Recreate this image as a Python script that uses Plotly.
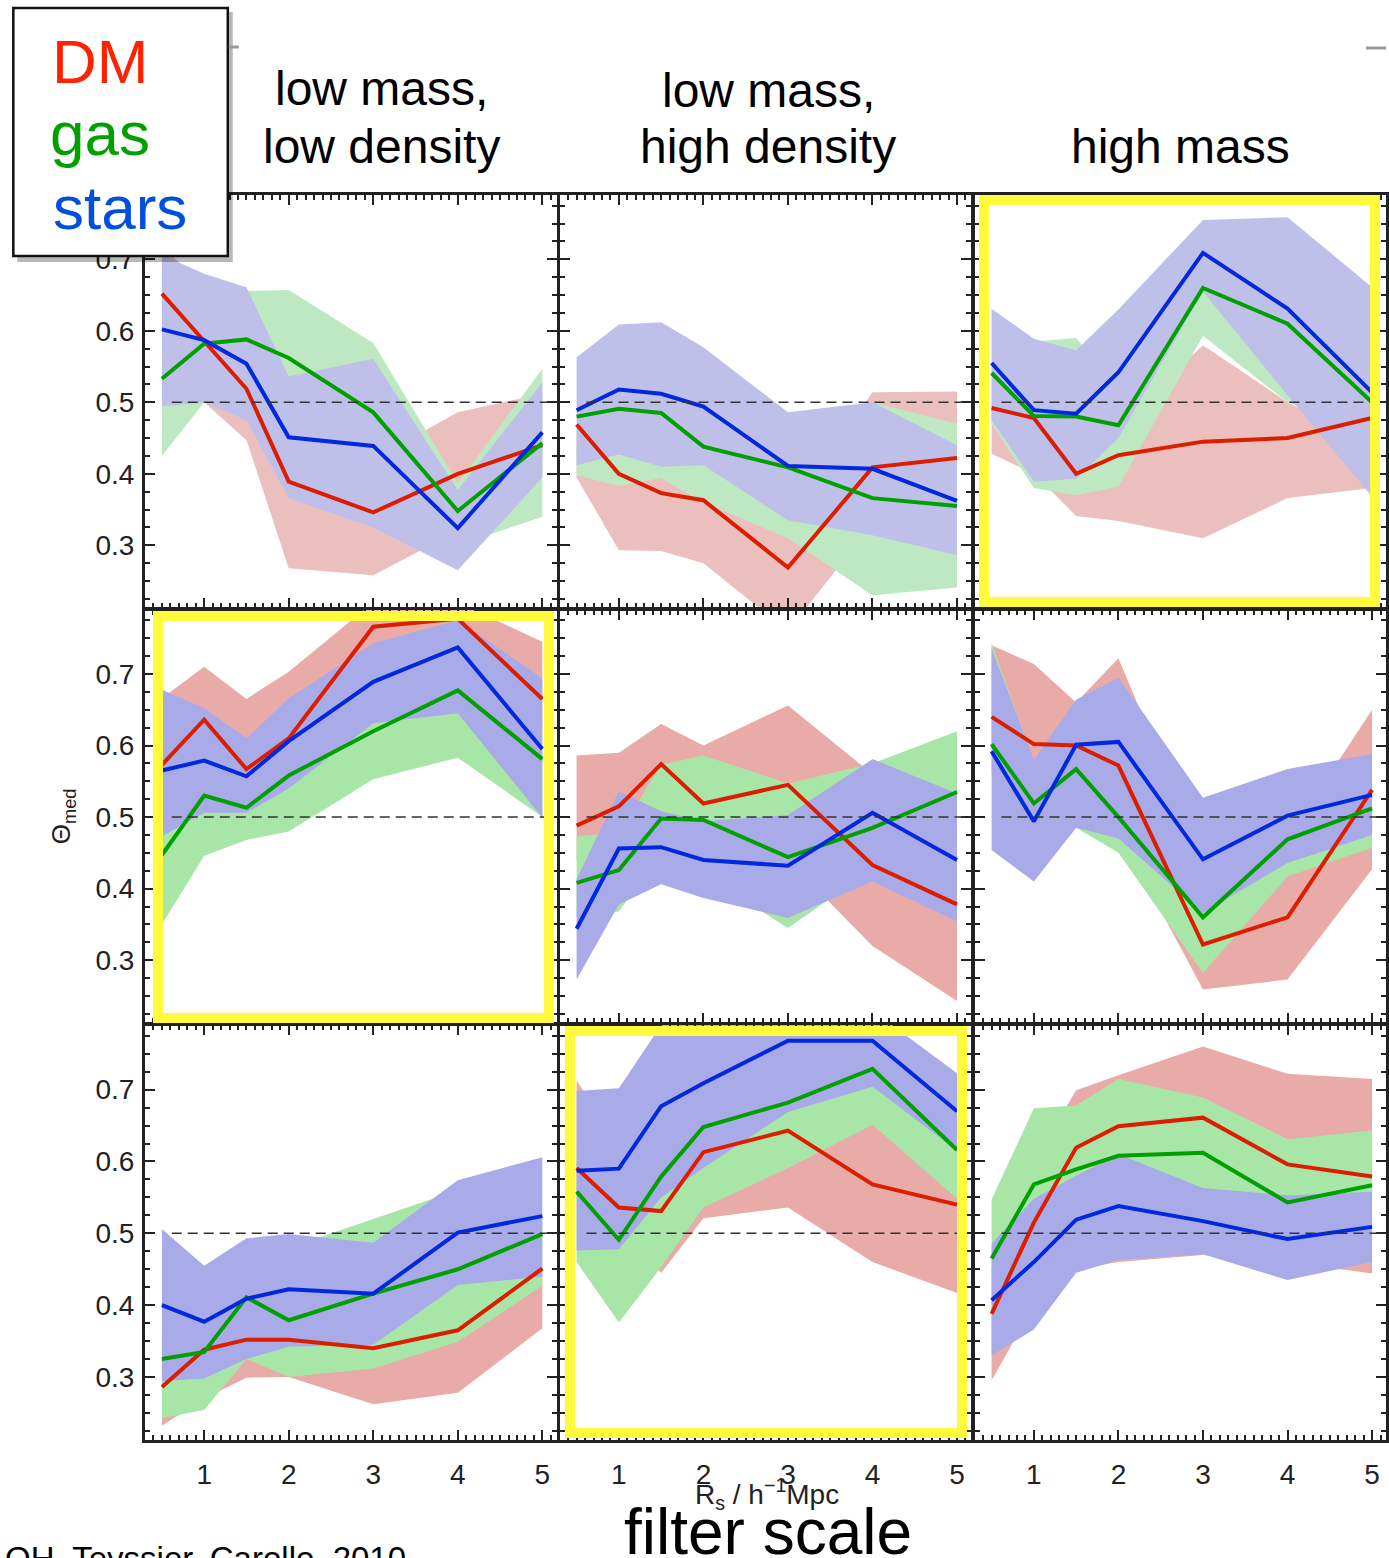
import plotly.graph_objects as go

# ---------------- data ----------------
X = [0.5, 1, 1.5, 2, 3, 4, 5]          # filter scale R_s [h^-1 Mpc]

# panels in row-major order:
# r1: low mass/low density, low mass/high density, high mass  (same for r2, r3)
DM_MED = [
    [0.652, 0.586, 0.519, 0.389, 0.346, 0.400, 0.440],
    [0.469, 0.400, 0.373, 0.363, 0.269, 0.409, 0.422],
    [0.492, 0.478, 0.400, 0.426, 0.445, 0.450, 0.478],
    [0.573, 0.636, 0.567, 0.610, 0.766, 0.777, 0.665],
    [0.488, 0.515, 0.574, 0.519, 0.545, 0.433, 0.378],
    [0.640, 0.602, 0.600, 0.572, 0.322, 0.360, 0.538],
    [0.286, 0.338, 0.352, 0.352, 0.340, 0.365, 0.451],
    [0.591, 0.536, 0.531, 0.613, 0.643, 0.568, 0.540],
    [0.388, 0.515, 0.619, 0.649, 0.661, 0.596, 0.579],
]
DM_LO = [
    [0.600, 0.500, 0.447, 0.268, 0.258, 0.320, 0.400],
    [0.395, 0.293, 0.292, 0.275, 0.180, 0.330, 0.400],
    [0.428, 0.400, 0.341, 0.334, 0.310, 0.366, 0.380],
    [0.560, 0.600, 0.550, 0.580, 0.700, 0.720, 0.620],
    [0.440, 0.450, 0.500, 0.490, 0.440, 0.320, 0.243],
    [0.560, 0.520, 0.500, 0.480, 0.259, 0.273, 0.427],
    [0.232, 0.270, 0.299, 0.300, 0.262, 0.278, 0.368],
    [0.550, 0.500, 0.445, 0.521, 0.536, 0.460, 0.417],
    [0.295, 0.400, 0.450, 0.460, 0.470, 0.460, 0.444],
]
DM_HI = [
    [0.720, 0.660, 0.580, 0.460, 0.420, 0.486, 0.512],
    [0.460, 0.450, 0.430, 0.410, 0.340, 0.514, 0.515],
    [0.500, 0.470, 0.440, 0.470, 0.580, 0.500, 0.440],
    [0.666, 0.710, 0.665, 0.703, 0.800, 0.800, 0.745],
    [0.586, 0.590, 0.630, 0.600, 0.656, 0.560, 0.460],
    [0.740, 0.714, 0.660, 0.722, 0.440, 0.470, 0.650],
    [0.300, 0.340, 0.360, 0.360, 0.360, 0.430, 0.440],
    [0.713, 0.620, 0.600, 0.660, 0.700, 0.700, 0.620],
    [0.450, 0.600, 0.699, 0.720, 0.760, 0.722, 0.715],
]
GAS_MED = [
    [0.533, 0.582, 0.588, 0.562, 0.486, 0.348, 0.443],
    [0.480, 0.491, 0.485, 0.438, 0.409, 0.366, 0.355],
    [0.541, 0.481, 0.480, 0.468, 0.660, 0.610, 0.500],
    [0.447, 0.530, 0.513, 0.558, 0.620, 0.677, 0.581],
    [0.408, 0.426, 0.498, 0.496, 0.444, 0.485, 0.535],
    [0.602, 0.519, 0.567, 0.500, 0.360, 0.469, 0.512],
    [0.325, 0.335, 0.411, 0.379, 0.416, 0.450, 0.499],
    [0.558, 0.491, 0.579, 0.648, 0.682, 0.729, 0.616],
    [0.465, 0.568, 0.589, 0.608, 0.612, 0.543, 0.567],
]
GAS_LO = [
    [0.425, 0.500, 0.500, 0.480, 0.400, 0.300, 0.340],
    [0.398, 0.383, 0.394, 0.360, 0.310, 0.230, 0.241],
    [0.470, 0.380, 0.370, 0.382, 0.593, 0.500, 0.460],
    [0.350, 0.446, 0.468, 0.480, 0.553, 0.583, 0.500],
    [0.360, 0.368, 0.450, 0.420, 0.345, 0.427, 0.440],
    [0.600, 0.500, 0.485, 0.450, 0.282, 0.417, 0.457],
    [0.243, 0.254, 0.325, 0.300, 0.312, 0.349, 0.427],
    [0.460, 0.376, 0.453, 0.536, 0.591, 0.651, 0.548],
    [0.440, 0.500, 0.520, 0.560, 0.550, 0.540, 0.550],
]
GAS_HI = [
    [0.550, 0.600, 0.656, 0.657, 0.583, 0.387, 0.547],
    [0.440, 0.450, 0.440, 0.430, 0.400, 0.500, 0.470],
    [0.550, 0.585, 0.590, 0.520, 0.668, 0.630, 0.520],
    [0.500, 0.560, 0.550, 0.600, 0.660, 0.700, 0.620],
    [0.473, 0.478, 0.573, 0.586, 0.547, 0.575, 0.620],
    [0.743, 0.578, 0.620, 0.560, 0.420, 0.490, 0.530],
    [0.350, 0.360, 0.420, 0.480, 0.520, 0.560, 0.530],
    [0.620, 0.560, 0.620, 0.700, 0.720, 0.760, 0.660],
    [0.547, 0.674, 0.678, 0.715, 0.689, 0.631, 0.643],
]
STARS_MED = [
    [0.602, 0.587, 0.554, 0.451, 0.439, 0.324, 0.458],
    [0.489, 0.518, 0.512, 0.494, 0.411, 0.407, 0.362],
    [0.555, 0.489, 0.484, 0.542, 0.709, 0.631, 0.514],
    [0.565, 0.579, 0.557, 0.606, 0.689, 0.737, 0.595],
    [0.344, 0.456, 0.458, 0.440, 0.432, 0.506, 0.440],
    [0.592, 0.494, 0.601, 0.605, 0.441, 0.502, 0.531],
    [0.400, 0.377, 0.409, 0.422, 0.416, 0.501, 0.524],
    [0.587, 0.590, 0.677, 0.709, 0.768, 0.768, 0.670],
    [0.407, 0.460, 0.519, 0.538, 0.517, 0.492, 0.509],
]
STARS_LO = [
    [0.494, 0.500, 0.475, 0.366, 0.325, 0.265, 0.395],
    [0.412, 0.427, 0.410, 0.412, 0.335, 0.314, 0.286],
    [0.475, 0.389, 0.393, 0.450, 0.655, 0.510, 0.368],
    [0.473, 0.506, 0.506, 0.540, 0.631, 0.645, 0.499],
    [0.273, 0.378, 0.406, 0.387, 0.359, 0.410, 0.354],
    [0.454, 0.410, 0.485, 0.470, 0.366, 0.436, 0.475],
    [0.294, 0.298, 0.325, 0.342, 0.345, 0.428, 0.440],
    [0.476, 0.478, 0.550, 0.591, 0.669, 0.704, 0.615],
    [0.330, 0.366, 0.445, 0.463, 0.471, 0.435, 0.460],
]
STARS_HI = [
    [0.706, 0.680, 0.661, 0.536, 0.561, 0.377, 0.528],
    [0.563, 0.609, 0.612, 0.577, 0.486, 0.500, 0.440],
    [0.631, 0.589, 0.573, 0.630, 0.755, 0.759, 0.661],
    [0.678, 0.652, 0.610, 0.666, 0.743, 0.775, 0.694],
    [0.413, 0.536, 0.508, 0.494, 0.503, 0.581, 0.533],
    [0.736, 0.580, 0.664, 0.695, 0.527, 0.567, 0.588],
    [0.506, 0.455, 0.493, 0.499, 0.487, 0.574, 0.606],
    [0.698, 0.702, 0.790, 0.810, 0.820, 0.810, 0.723],
    [0.486, 0.548, 0.580, 0.610, 0.563, 0.553, 0.558],
]
HIGHLIGHTED = [2, 3, 7]   # panels framed in yellow
COL_TITLES = [["low mass,", "low density"], ["low mass,", "high density"], ["high mass"]]
Y_TICKS = [0.3, 0.4, 0.5, 0.6, 0.7]
X_TICKS = [1, 2, 3, 4, 5]

# ---------------- layout geometry ----------------
W, H = 1389, 1558
ML, MR, MT, MB = 145, 0, 195, 118
PW, PH = W - ML - MR, H - MT - MB


def pxx(x):
    return (x - ML) / PW


def pyy(y):
    return (H - MB - y) / PH


COLS = [(145, 557.7), (560.7, 973.4), (976.7, 1389)]
ROWS = [(195, 607.5), (609.5, 1022.5), (1025, 1439.5)]
XRANGES = [[0.30, 5.17], [0.30, 5.17], [0.30, 5.165]]
YRANGE = [0.213, 0.79]

LINE_C = {"dm": "#dc1e00", "gas": "#00a000", "stars": "#0028dc"}
FILL_ROW1 = {"dm": "#ebbfbe", "gas": "#bee8c2", "stars": "#bec0ea"}
FILL_OTHER = {"dm": "#e9aba8", "gas": "#a8e6a8", "stars": "#a9abe8"}
FONT = "Liberation Sans, Arial, Helvetica, sans-serif"
AXC = "#222222"

fig = go.Figure()
species = [("dm", DM_MED, DM_LO, DM_HI), ("gas", GAS_MED, GAS_LO, GAS_HI),
           ("stars", STARS_MED, STARS_LO, STARS_HI)]

for i in range(9):
    r, c = divmod(i, 3)
    sfx = "" if i == 0 else str(i + 1)
    fills = FILL_ROW1 if r == 0 else FILL_OTHER
    for key, med, lo, hi in species:
        fig.add_trace(go.Scatter(
            x=X + X[::-1], y=hi[i] + lo[i][::-1], fill="toself",
            fillcolor=fills[key], line=dict(width=0), mode="lines",
            hoverinfo="skip", showlegend=False,
            xaxis="x" + sfx, yaxis="y" + sfx))
    for key, med, lo, hi in species:
        fig.add_trace(go.Scatter(
            x=X, y=med[i], mode="lines", line=dict(color=LINE_C[key], width=4),
            showlegend=False, xaxis="x" + sfx, yaxis="y" + sfx))

layout = dict(
    width=W, height=H, margin=dict(l=ML, r=MR, t=MT, b=MB),
    paper_bgcolor="white", plot_bgcolor="white", showlegend=False,
    font=dict(family=FONT, color=AXC),
)
for i in range(9):
    r, c = divmod(i, 3)
    sfx = "" if i == 0 else str(i + 1)
    common = dict(showline=True, linewidth=3, linecolor=AXC, mirror="allticks",
                  ticks="inside", ticklen=10, tickwidth=2, tickcolor=AXC,
                  showgrid=False, zeroline=False,
                  tickfont=dict(family=FONT, size=28, color=AXC))
    layout["xaxis" + sfx] = dict(
        common, domain=[pxx(COLS[c][0]), pxx(COLS[c][1])], range=XRANGES[c],
        anchor="y" + sfx, tickvals=X_TICKS, showticklabels=(r == 2),
        ticklabelstandoff=8,
        minor=dict(ticks="inside", ticklen=5, tickwidth=1.5, tickcolor=AXC,
                   dtick=0.1, tick0=0, showgrid=False))
    layout["yaxis" + sfx] = dict(
        common, domain=[pyy(ROWS[r][1]), pyy(ROWS[r][0])], range=YRANGE,
        anchor="x" + sfx, tickvals=Y_TICKS, ticktext=[f"{v:.1f}" for v in Y_TICKS],
        showticklabels=(c == 0), ticklabelstandoff=2,
        minor=dict(ticks="inside", ticklen=5, tickwidth=1.5, tickcolor=AXC,
                   dtick=0.025, tick0=0, showgrid=False))
fig.update_layout(**layout)

shapes = []
# dashed 0.5 reference lines
for i in range(9):
    sfx = "" if i == 0 else str(i + 1)
    shapes.append(dict(type="line", xref=f"x{sfx} domain", yref="y" + sfx,
                       x0=0.065, x1=1, y0=0.5, y1=0.5,
                       line=dict(color="#333333", width=1.5, dash="10px,6px"),
                       layer="above"))
# yellow frames (pixel boxes: left, top, right, bottom of stroke centre)
YBOX = {2: (986, 200, 1378, 602), 3: (158, 616, 550, 1018), 7: (571, 1031, 964, 1433)}
for i in HIGHLIGHTED:
    l, t, rr, b = YBOX[i]
    shapes.append(dict(type="rect", xref="paper", yref="paper",
                       x0=pxx(l), x1=pxx(rr), y0=pyy(b), y1=pyy(t),
                       line=dict(color="#fffa3c", width=10), layer="above"))
# legend box with shadow
shapes.append(dict(type="rect", xref="paper", yref="paper",
                   x0=pxx(17), x1=pxx(233), y0=pyy(262), y1=pyy(12),
                   line=dict(width=0), fillcolor="rgba(0,0,0,0.28)", layer="above"))
shapes.append(dict(type="rect", xref="paper", yref="paper",
                   x0=pxx(13), x1=pxx(228), y0=pyy(256), y1=pyy(8),
                   line=dict(color="#111111", width=2.5), fillcolor="white", layer="above"))
# small grey slide remnants at top
shapes.append(dict(type="line", xref="paper", yref="paper", x0=pxx(229), x1=pxx(239),
                   y0=pyy(47), y1=pyy(47), line=dict(color="#999999", width=3)))
shapes.append(dict(type="line", xref="paper", yref="paper", x0=pxx(1369), x1=pxx(1389),
                   y0=pyy(48), y1=pyy(48), line=dict(color="#999999", width=3)))
fig.update_layout(shapes=shapes)

ann = []


def text(s, x, y, size, color="#000000", xanchor="center", yanchor="middle", angle=0):
    ann.append(dict(text=s, x=pxx(x), y=pyy(y), xref="paper", yref="paper",
                    showarrow=False, xanchor=xanchor, yanchor=yanchor, textangle=angle,
                    font=dict(family=FONT, size=size, color=color)))


# column titles
text(COL_TITLES[0][0], 382, 88, 48)
text(COL_TITLES[0][1], 382, 146, 48)
text(COL_TITLES[1][0], 770, 90, 48)
text(COL_TITLES[1][1], 770, 146, 48)
text(COL_TITLES[2][0], 1183, 146, 48)
# legend texts
text("DM", 50, 62, 62, "#ff2200", xanchor="left")
text("gas", 48, 133, 62, "#00a000", xanchor="left")
text("stars", 51, 208, 62, "#0050dc", xanchor="left")
# axis titles
text("Θ<sub>med</sub>", 62, 816, 26, AXC, angle=-90)
text("R<sub>s</sub> / h<sup>−1</sup>Mpc", 769, 1494, 28, AXC)
text("filter scale", 770, 1532, 64, "#000000")
text("OH, Teyssier, Carollo, 2010", 409, 1538, 33, "#000000", xanchor="right", yanchor="top")
fig.update_layout(annotations=ann)

fig.write_html("out.html")
